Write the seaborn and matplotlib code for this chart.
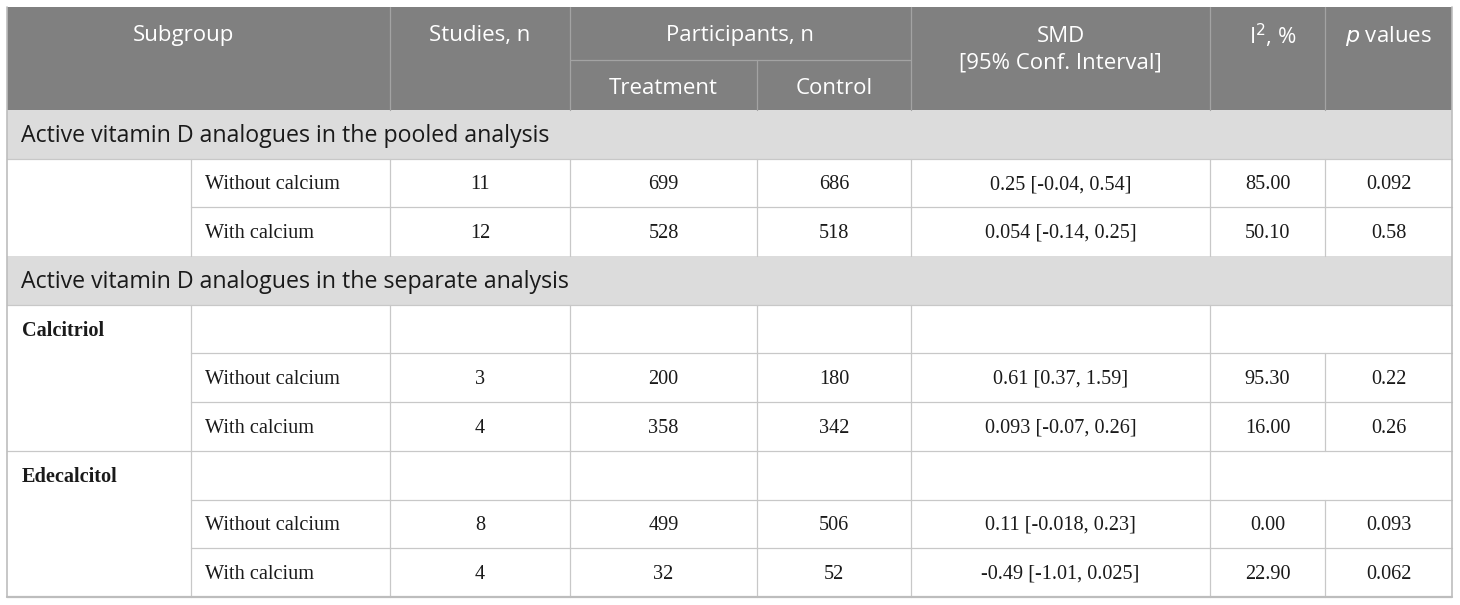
import matplotlib
matplotlib.use("Agg")
import matplotlib.pyplot as plt
import seaborn as sns
from matplotlib.patches import Rectangle

# table contents
sections = ["Active vitamin D analogues in the pooled analysis",
            "Active vitamin D analogues in the separate analysis"]
groups = ["", "Calcitriol", "Edecalcitol"]
subgroups = ["Without calcium", "With calcium",
             "Without calcium", "With calcium",
             "Without calcium", "With calcium"]
studies = [11, 12, 3, 4, 8, 4]
treatment = [699, 528, 200, 358, 499, 32]
control = [686, 518, 180, 342, 506, 52]
smd = ["0.25 [-0.04, 0.54]", "0.054 [-0.14, 0.25]",
       "0.61 [0.37, 1.59]", "0.093 [-0.07, 0.26]",
       "0.11 [-0.018, 0.23]", "-0.49 [-1.01, 0.025]"]
i2 = ["85.00", "50.10", "95.30", "16.00", "0.00", "22.90"]
pvals = ["0.092", "0.58", "0.22", "0.26", "0.093", "0.062"]

sns.set_theme(style="white")
plt.rcParams["font.family"] = ["Open Sans", "DejaVu Sans"]

W, H = 1460, 605
fig = plt.figure(figsize=(W / 100, H / 100), dpi=100)
ax = fig.add_axes([0, 0, 1, 1])
ax.set_xlim(0, W)
ax.set_ylim(H, 0)
ax.axis("off")

# column edges (px) and row layout
cx = [7, 191, 390, 570, 757, 911, 1210, 1325, 1452]
top, hmid, hbot = 7, 60, 110
rh = 48.7

hdr_col = "#808080"
hdr_line = "#a3a3a3"
sec_col = "#dcdcdc"
grid = "#c8c8c8"
txt = "#1a1a1a"
lw = 0.9

# header block
ax.add_patch(Rectangle((cx[0], top), cx[-1] - cx[0], hbot - top, color=hdr_col, lw=0))
for x in [cx[2], cx[3], cx[5], cx[6], cx[7]]:
    ax.plot([x, x], [top, hbot], color=hdr_line, lw=lw)
ax.plot([cx[4], cx[4]], [hmid, hbot], color=hdr_line, lw=lw)
ax.plot([cx[3], cx[5]], [hmid, hmid], color=hdr_line, lw=lw)

hs = 16.0
ty = 36
hk = dict(color="white", fontsize=hs, ha="center", va="center")
ax.text(183, ty, "Subgroup", **hk)
ax.text((cx[2] + cx[3]) / 2, ty, "Studies, n", **hk)
ax.text((cx[3] + cx[5]) / 2, ty, "Participants, n", **hk)
ax.text((cx[3] + cx[4]) / 2, 88, "Treatment", **hk)
ax.text((cx[4] + cx[5]) / 2, 88, "Control", **hk)
ax.text((cx[5] + cx[6]) / 2, ty, "SMD", **hk)
ax.text((cx[5] + cx[6]) / 2, 63, "[95% Conf. Interval]", **hk)
ax.text((cx[6] + cx[7]) / 2 + 5, ty, "I$^{2}$, %", **hk)
ax.text((cx[7] + cx[8]) / 2, ty, "$\\it{p}$ values", **hk)

# body rows: kind, label
layout = [("sec", 0), ("data", 0), ("data", 1), ("sec", 1),
          ("grp", 1), ("data", 2), ("data", 3),
          ("grp", 2), ("data", 4), ("data", 5)]

bs = 14.6
ss = 16.7
serif = ["Liberation Serif", "DejaVu Serif"]
y0 = hbot
prev_grp = None
for kind, idx in layout:
    y1 = y0 + rh
    yc = (y0 + y1) / 2 + 1.5
    if kind == "sec":
        ax.add_patch(Rectangle((cx[0], y0), cx[-1] - cx[0], rh, color=sec_col, lw=0))
        ax.text(21, yc + 0.5, sections[idx], color=txt, fontsize=ss, ha="left", va="center")
        prev_grp = None
    else:
        # top line: full width at start of a group, else skip first column
        start = cx[0] if kind == "grp" or prev_grp is None else cx[1]
        ax.plot([start, cx[-1]], [y0, y0], color=grid, lw=lw)
        verts = cx[1:7] if kind == "grp" else cx[1:8]
        for x in verts:
            ax.plot([x, x], [y0, y1], color=grid, lw=lw)
        if kind == "grp":
            ax.text(22, yc, groups[idx], color=txt, fontsize=bs, fontweight="bold",
                    family=serif, ha="left", va="center")
        else:
            ax.text(cx[1] + 14, yc, subgroups[idx], color=txt, fontsize=bs, family=serif,
                    ha="left", va="center")
            vals = [studies[idx], treatment[idx], control[idx], smd[idx], i2[idx], pvals[idx]]
            for j, v in enumerate(vals):
                xc = (cx[j + 2] + cx[j + 3]) / 2
                ax.text(xc, yc, str(v), color=txt, fontsize=bs, family=serif,
                        ha="center", va="center")
        prev_grp = kind
    y0 = y1

# outer border
ax.plot([cx[0], cx[0]], [top, y0], color="#bdbdbd", lw=1.2)
ax.plot([cx[-1], cx[-1]], [top, y0], color="#bdbdbd", lw=1.2)
ax.plot([cx[0], cx[-1]], [y0, y0], color="#bdbdbd", lw=1.6)

fig.savefig("out.png", dpi=100)
